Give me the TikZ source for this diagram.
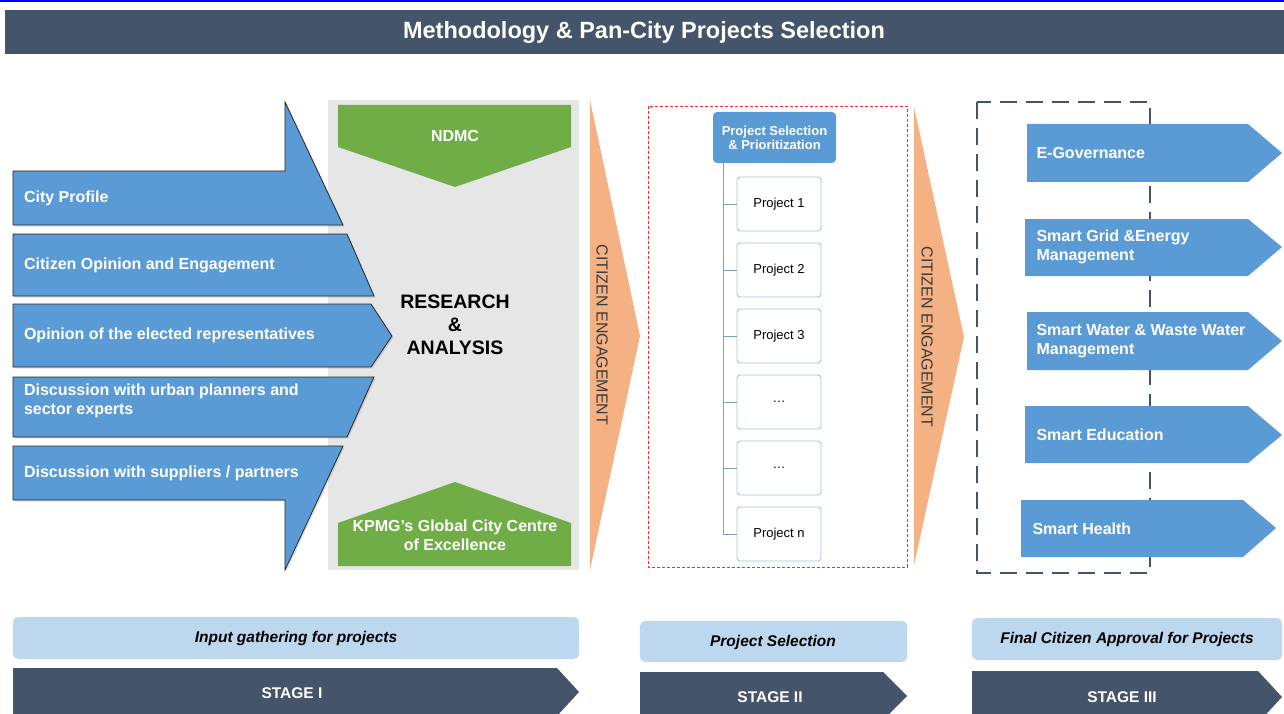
\documentclass[tikz,border=0pt]{standalone}
\usepackage{fontspec}
\setmainfont{Liberation Sans}
\usetikzlibrary{shadows}

\definecolor{slateblue}{HTML}{44546A}
\definecolor{arrowblue}{HTML}{5B9BD5}
\definecolor{leafgreen}{HTML}{70AD47}
\definecolor{panelgray}{HTML}{E6E6E6}
\definecolor{peach}{HTML}{F4B183}
\definecolor{paleblue}{HTML}{BDD7EE}
\definecolor{boxline}{HTML}{9DC3E6}
\definecolor{treeline}{HTML}{7F9FCB}
\definecolor{engtext}{HTML}{3A3A3A}

\tikzset{
	inarrow/.style = {fill = arrowblue, draw = black!85, line width = 0.8pt,
		drop shadow = {shadow xshift = 1.5pt, shadow yshift = -1.5pt, opacity = 0.25}},
	outarrow/.style = {fill = arrowblue},
	whitebold/.style = {text = white, font = \bfseries\fontsize{16}{19}\selectfont},
	armlabel/.style = {whitebold, anchor = west, align = left},
	englabel/.style = {rotate = -90, text = engtext, font = \fontsize{16}{19}\selectfont},
	projbox/.style = {draw = boxline, line width = 0.9pt, fill = white, rounded corners = 3pt,
		minimum width = 84pt, minimum height = 54pt, font = \fontsize{13}{15}\selectfont},
	stagebar/.style = {fill = slateblue},
	stagelabel/.style = {text = white, font = \bfseries\fontsize{15.5}{18}\selectfont},
	notebox/.style = {fill = paleblue, rounded corners = 5pt},
	notelabel/.style = {font = \bfseries\itshape\fontsize{15.5}{18}\selectfont},
}

\begin{document}
\begin{tikzpicture}[x = 1pt, y = -1pt]
	\useasboundingbox (0, 0) rectangle (1284, 714);
	\fill[blue] (0, 0) rectangle (1284, 2);

	% title bar
	\fill[slateblue] (5, 10) rectangle (1284, 54);
	\node[text = white, font = \bfseries\fontsize{23.5}{26}\selectfont] (title) at (644, 32) {Methodology \& Pan-City Projects Selection};

	% stage I : research panel
	\fill[panelgray] (328, 100) rectangle (579, 570);
	\fill[leafgreen] (338, 105) -- (571, 105) -- (571, 147) -- (455, 187) -- (338, 147) -- cycle;
	\node[whitebold] (ndmc) at (455, 136) {NDMC};
	\fill[leafgreen] (455, 482) -- (571, 523) -- (571, 566) -- (338, 566) -- (338, 523) -- cycle;
	\node[whitebold, align = center] (kpmg) at (455, 535) {KPMG’s Global City Centre\\of Excellence};
	\node[align = center, font = \bfseries\fontsize{19.5}{23}\selectfont] (research) at (455, 325) {RESEARCH\\\&\\ANALYSIS};

	\draw[inarrow] (13, 171) -- (285, 171) -- (285, 102) -- (343, 225) -- (13, 225) -- cycle;
	\draw[inarrow] (13, 234) -- (347, 234) -- (374, 296) -- (13, 296) -- cycle;
	\draw[inarrow] (13, 304) -- (371, 304) -- (392, 336) -- (371, 367) -- (13, 367) -- cycle;
	\draw[inarrow] (13, 377) -- (374, 377) -- (347, 437) -- (13, 437) -- cycle;
	\draw[inarrow] (13, 446) -- (343, 446) -- (285, 570) -- (285, 500) -- (13, 500) -- cycle;
	\node[armlabel] (profile) at (20.5, 198) {City Profile};
	\node[armlabel] (opinion) at (20.5, 265) {Citizen Opinion and Engagement};
	\node[armlabel] (elected) at (20.5, 335) {Opinion of the elected representatives};
	\node[armlabel] (planners) at (20.5, 401) {Discussion with urban planners and\\sector experts};
	\node[armlabel] (suppliers) at (20.5, 473) {Discussion with suppliers / partners};

	% citizen engagement chevrons
	\fill[peach] (590, 100) -- (640, 336) -- (590, 570) -- cycle;
	\node[englabel] (engage1) at (602, 335) {CITIZEN ENGAGEMENT};
	\fill[peach] (914, 107) -- (964, 337) -- (914, 565) -- cycle;
	\node[englabel] (engage2) at (927, 337) {CITIZEN ENGAGEMENT};

	% stage II : project tree
	\draw[red!85, dashed, line width = 0.8pt, dash pattern = on 3pt off 2pt] (648, 106) rectangle (907, 567);
	\node[fill = arrowblue, rounded corners = 4pt, minimum width = 123pt, minimum height = 51pt,
		whitebold, font = \bfseries\fontsize{13}{14}\selectfont, align = center] (hdr) at (774.5, 137.5)
		{Project Selection\\\& Prioritization};
	\coordinate (trunk) at ([xshift = 11pt]hdr.south west);
	\foreach \i/\y/\t in {1/204/Project 1, 2/270/Project 2, 3/336/Project 3, 4/402/\ldots, 5/468/\ldots, 6/534/Project n}{
		\node[projbox] (p\i) at (779, \y) {\t};
		\draw[treeline, line width = 0.9pt] (trunk) |- (p\i.west);
	}

	% stage III : approved projects
	\draw[slateblue, line width = 2.6pt, dash pattern = on 17pt off 9pt] (977, 102) rectangle (1150, 573);
	\fill[outarrow] (1027, 124) -- (1248, 124) -- (1282, 153) -- (1248, 182) -- (1027, 182) -- cycle;
	\fill[outarrow] (1025, 219) -- (1248, 219) -- (1282, 247) -- (1248, 276) -- (1025, 276) -- cycle;
	\fill[outarrow] (1027, 312) -- (1248, 312) -- (1282, 341) -- (1248, 370) -- (1027, 370) -- cycle;
	\fill[outarrow] (1025, 406) -- (1248, 406) -- (1282, 435) -- (1248, 463) -- (1025, 463) -- cycle;
	\fill[outarrow] (1021, 500) -- (1243, 500) -- (1276, 528) -- (1243, 557) -- (1021, 557) -- cycle;
	\node[armlabel] (egov) at (1033, 153) {E-Governance};
	\node[armlabel] (grid) at (1033, 247) {Smart Grid \&Energy\\Management};
	\node[armlabel] (water) at (1033, 341) {Smart Water \& Waste Water\\Management};
	\node[armlabel] (edu) at (1033, 435) {Smart Education};
	\node[armlabel] (health) at (1029, 529) {Smart Health};

	% stage captions
	\fill[notebox] (13, 617) rectangle (579, 659);
	\node[notelabel] (note1) at (296, 638) {Input gathering for projects};
	\fill[stagebar] (13, 668) -- (557, 668) -- (579, 692) -- (557, 716) -- (13, 716) -- cycle;
	\node[stagelabel] (stage1) at (292, 693) {STAGE I};
	\fill[notebox] (640, 621) rectangle (907, 662);
	\node[notelabel] (note2) at (773, 642) {Project Selection};
	\fill[stagebar] (640, 672) -- (883, 672) -- (907, 696) -- (883, 720) -- (640, 720) -- cycle;
	\node[stagelabel] (stage2) at (770, 697) {STAGE II};
	\fill[notebox] (972, 618) rectangle (1282, 660);
	\node[notelabel] (note3) at (1127, 639) {Final Citizen Approval for Projects};
	\fill[stagebar] (972, 671) -- (1258, 671) -- (1282, 697) -- (1258, 723) -- (972, 723) -- cycle;
	\node[stagelabel] (stage3) at (1122, 697) {STAGE III};
\end{tikzpicture}
\end{document}
